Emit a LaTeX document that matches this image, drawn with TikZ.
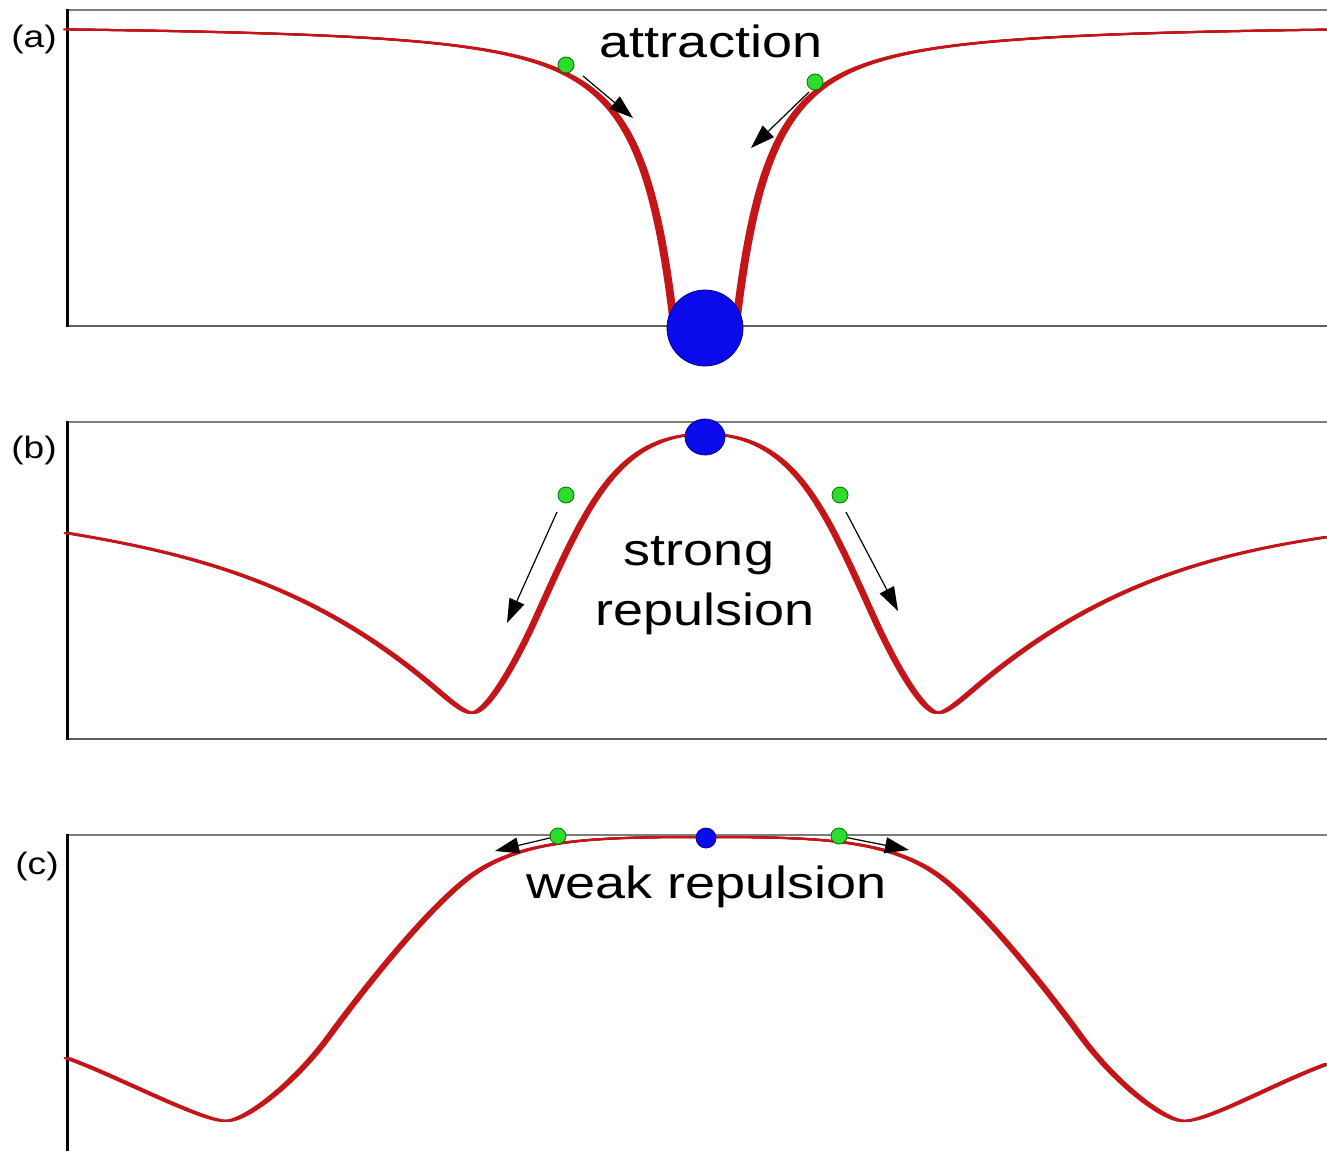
\documentclass[tikz,border=0pt]{standalone}
\usepackage{fontspec}
\setmainfont{Liberation Sans}
\usepackage{graphicx}
\usetikzlibrary{arrows.meta,shapes.geometric}
\definecolor{curvered}{RGB}{196,22,24}
\definecolor{dotgreen}{RGB}{45,220,45}
\definecolor{dotgreenedge}{RGB}{0,110,0}
\definecolor{dotblue}{RGB}{10,10,235}
\definecolor{dotblueedge}{RGB}{0,0,150}
\definecolor{framegray}{RGB}{125,125,125}
\definecolor{botgray}{RGB}{95,95,95}
\begin{document}
\begin{tikzpicture}[x=0.5pt,y=-0.5pt,
  axisline/.style={black,line width=1.5pt},
  topline/.style={framegray,line width=1pt},
  botline/.style={botgray,line width=1.3pt},
  curve/.style={curvered,line width=1pt,line join=round,line cap=round},
  gdot/.style={circle,fill=dotgreen,draw=dotgreenedge,line width=0.4pt,inner sep=0pt,minimum size=8pt},
  bdot/.style={circle,fill=dotblue,draw=dotblueedge,line width=0.4pt,inner sep=0pt},
  mover/.style={black,line width=0.6pt,-{Triangle[length=12pt,width=8pt]}},
  bigtext/.style={inner sep=0pt,anchor=base,font=\fontsize{22.5}{27}\selectfont},
  paneltag/.style={inner sep=0pt,font=\fontsize{15.5}{18}\selectfont}
]
\useasboundingbox (0,0) rectangle (1327,1151);
\fill[white] (0,0) rectangle (1327,1151);

% ---------- frames ----------
\draw[topline] (67,10) -- (1327,10);
\draw[botline] (67,326) -- (1327,326);
\draw[topline] (67,422) -- (1327,422);
\draw[botline] (67,739) -- (1327,739);
\draw[topline] (67,835) -- (1327,835);
\draw[axisline] (67,9) -- (67,327);
\draw[axisline] (67,421) -- (67,740);
\draw[axisline] (67,834) -- (67,1151);

% ---------- curves ----------
\foreach \s in {-3,-1.5,0,1.5,3}{
  % panel (a)
  \draw[curve,xshift=\s*0.5pt] plot[domain=5.57:25.26,samples=220,smooth]
    ({705-\x*\x},{24+740/(1+8.44*(\x/10)^3)});
  \draw[curve,xshift=\s*0.5pt] plot[domain=5.57:24.94,samples=220,smooth]
    ({705+\x*\x},{24+740/(1+8.44*(\x/10)^3)});
}
\foreach \s in {-2.5,-1.25,0,1.25,2.5}{
  % panel (b)
  \draw[curve,xshift=\s*0.5pt] (67,533)
    .. controls (200,555) and (315,586) .. (435,688)
    .. controls (450,700.75) and (464,713) .. (472,713)
    .. controls (487,713) and (515,664) .. (535,620)
    .. controls (585,510) and (615,434) .. (705,434)
    .. controls (795,434) and (825,510) .. (875,620)
    .. controls (895,664) and (923,713) .. (938,713)
    .. controls (946,713) and (960,700.75) .. (975,688)
    .. controls (1095,586) and (1207,555) .. (1327,537);
  % panel (c)
  \draw[curve,xshift=\s*0.5pt] (67,1058)
    .. controls (117,1076) and (201,1121) .. (226,1121)
    .. controls (246,1121) and (295,1083) .. (330,1035)
    .. controls (370,980.2) and (435,900.2) .. (475,873)
    .. controls (525,839) and (595,837) .. (705,837)
    .. controls (815,837) and (885,839) .. (935,873)
    .. controls (975,900.2) and (1040,980.2) .. (1080,1035)
    .. controls (1115,1083) and (1164,1121) .. (1184,1121)
    .. controls (1209,1121) and (1277,1082) .. (1327,1064);
}

% ---------- particles ----------
\node[bdot,minimum size=38pt] (bA) at (705,328) {};
\node[gdot] (gA1) at (566,65) {};
\node[gdot] (gA2) at (815,82) {};

\node[bdot,ellipse,minimum width=20pt,minimum height=18pt] (bB) at (705,437) {};
\node[gdot] (gB1) at (566,495) {};
\node[gdot] (gB2) at (840,495) {};

\node[bdot,minimum size=10pt] (bC) at (706,838) {};
\node[gdot] (gC1) at (558,836) {};
\node[gdot] (gC2) at (839,836) {};

% ---------- arrows ----------
\coordinate (a1s) at (583,76);  \coordinate (a1e) at (633,118);
\coordinate (a2s) at (809,92);  \coordinate (a2e) at (751,148);
\coordinate (b1s) at (557,512); \coordinate (b1e) at (507,623);
\coordinate (b2s) at (846,512); \coordinate (b2e) at (898,611);
\coordinate (c1e) at (495,851); \coordinate (c2e) at (909,850);
\draw[mover] (a1s) -- (a1e);
\draw[mover] (a2s) -- (a2e);
\draw[mover] (b1s) -- (b1e);
\draw[mover] (b2s) -- (b2e);
\draw[mover] (gC1) -- (c1e);
\draw[mover] (gC2) -- (c2e);

% ---------- texts ----------
\node[bigtext] (tAttr) at (711,57) {\scalebox{1.2}[1]{attraction}};
\node[bigtext] (tStrong) at (699,565) {\scalebox{1.2}[1]{strong}};
\node[bigtext] (tRep) at (705,625) {\scalebox{1.2}[1]{repulsion}};
\node[bigtext] (tWeak) at (707,898) {\scalebox{1.2}[1]{weak repulsion}};

\node[paneltag] (labA) at (34,39) {\scalebox{1.2}[1]{(a)}};
\node[paneltag] (labB) at (34,450) {\scalebox{1.2}[1]{(b)}};
\node[paneltag] (labC) at (37,866) {\scalebox{1.2}[1]{(c)}};
\end{tikzpicture}
\end{document}
